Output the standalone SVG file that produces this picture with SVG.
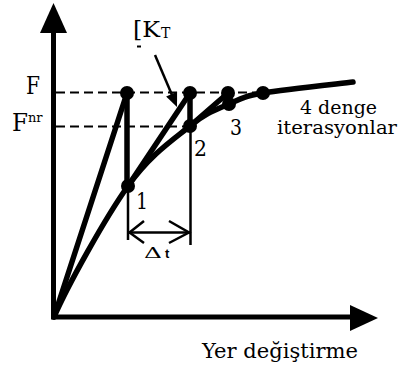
<svg xmlns="http://www.w3.org/2000/svg" width="401" height="371" viewBox="0 0 401 371">
<style>
text.s{font-family:'DejaVu Serif','Liberation Serif',serif;fill:#000}
.thick{stroke:#000;stroke-width:5.5;fill:none;stroke-linecap:round}
.thin{stroke:#000;stroke-width:2.5;fill:none}
.dash{stroke:#000;stroke-width:2;fill:none;stroke-dasharray:9 5}
.dot{fill:#000}
</style>
<rect width="401" height="371" fill="#fff"/>
<g id="axes">
<line x1="53.5" y1="30" x2="53.5" y2="319" stroke="#000" stroke-width="5"/>
<polygon points="53.5,3 40,33 67,33" fill="#000"/>
<line x1="51" y1="317" x2="352" y2="317" stroke="#000" stroke-width="5"/>
<polygon points="378,318 350,305 350,331" fill="#000"/>
</g>
<g id="connectors">
<line class="dash" x1="56" y1="92.5" x2="262" y2="92.5"/>
<line class="dash" x1="56" y1="126.5" x2="190" y2="126.5"/>
<path class="thick" d="M54,317 C68,285 105.3,217.8 128,186 C150.7,154.2 173.2,139.7 190,126 C206.8,112.3 216.8,109.5 229,104 C241.2,98.5 242.3,96.7 263,93 C283.7,89.3 338,83.8 353,82"/>
<line class="thick" x1="54" y1="317" x2="127" y2="93"/>
<line class="thick" x1="127" y1="93" x2="127" y2="186"/>
<line class="thick" x1="128" y1="186" x2="190" y2="93"/>
<line class="thick" x1="190" y1="93" x2="190" y2="126"/>
<line class="thick" x1="190" y1="126" x2="228" y2="93"/>
<line class="thick" x1="228" y1="93" x2="229" y2="104"/>
<line class="thin" x1="128" y1="186" x2="128" y2="240"/>
<line class="thin" x1="190.5" y1="126" x2="190.5" y2="245"/>
<line class="thin" x1="128" y1="232.5" x2="190.5" y2="232.5"/>
<polyline class="thin" points="144,221 129.5,232.5 144,243"/>
<polyline class="thin" points="169,221 189,232.5 169,243"/>
<line x1="155" y1="55" x2="172" y2="95" stroke="#000" stroke-width="2.5"/>
<polygon points="177,107 177.1,91.8 166.1,96.4" fill="#000"/>
</g>
<g id="points">
<circle class="dot" cx="127" cy="93" r="7"/>
<circle class="dot" cx="128" cy="186" r="7"/>
<circle class="dot" cx="190" cy="93" r="7"/>
<circle class="dot" cx="190" cy="126" r="7"/>
<circle class="dot" cx="228" cy="93" r="7"/>
<circle class="dot" cx="229" cy="104" r="7"/>
<circle class="dot" cx="263" cy="93" r="7"/>
</g>
<g id="labels">
<text class="s" x="26" y="94" font-size="24" textLength="14" lengthAdjust="spacingAndGlyphs">F</text>
<text class="s" x="12" y="131" font-size="24" textLength="16" lengthAdjust="spacingAndGlyphs">F</text>
<text class="s" x="28" y="122" font-size="13">nr</text>
<text class="s" x="133" y="37" font-size="22" textLength="27" lengthAdjust="spacingAndGlyphs">[K</text>
<text class="s" x="161" y="38" font-size="14">T</text>
<line x1="137" y1="46.5" x2="141" y2="46.5" stroke="#000" stroke-width="2"/>
<text class="s" x="136" y="209" font-size="22" textLength="12" lengthAdjust="spacingAndGlyphs">1</text>
<text class="s" x="194" y="156" font-size="22" textLength="13" lengthAdjust="spacingAndGlyphs">2</text>
<text class="s" x="230" y="135" font-size="22" textLength="12" lengthAdjust="spacingAndGlyphs">3</text>
<text class="s" x="300" y="114" font-size="19" textLength="77" lengthAdjust="spacingAndGlyphs">4 denge</text>
<text class="s" x="277" y="134" font-size="19" textLength="120" lengthAdjust="spacingAndGlyphs">iterasyonlar</text>
<text class="s" x="144" y="258" font-size="14" textLength="18" lengthAdjust="spacingAndGlyphs">Δ</text>
<text x="165" y="258" font-size="13" font-weight="bold" font-family="Liberation Sans, Arial, sans-serif">t</text>
<text class="s" x="202" y="358" font-size="21" textLength="156" lengthAdjust="spacingAndGlyphs">Yer değiştirme</text>
</g>
</svg>
